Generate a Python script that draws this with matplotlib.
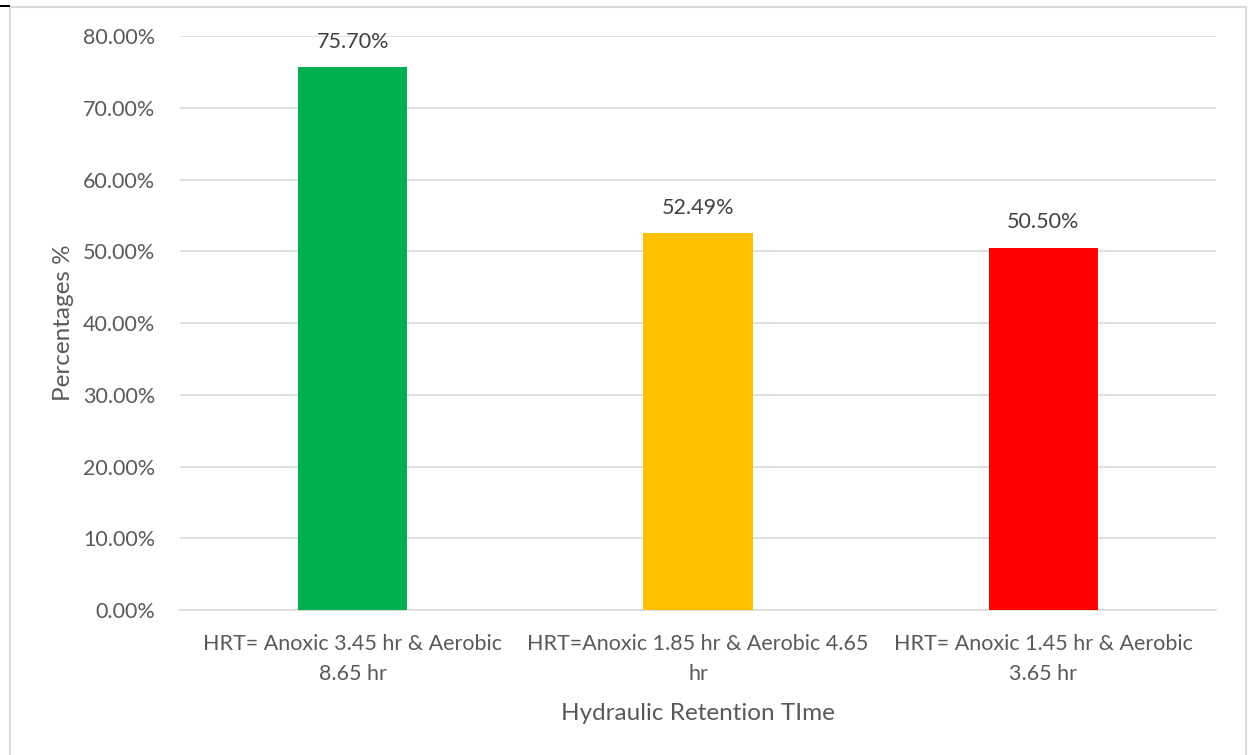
import matplotlib.pyplot as plt
from matplotlib.ticker import FuncFormatter
from matplotlib.patches import Rectangle

categories = ["HRT= Anoxic 3.45 hr & Aerobic\n8.65 hr",
              "HRT=Anoxic 1.85 hr & Aerobic 4.65\nhr",
              "HRT= Anoxic 1.45 hr & Aerobic\n3.65 hr"]
values = [75.70, 52.49, 50.50]
colors = ["#00B050", "#FFC000", "#FF0000"]

plt.rcParams["font.family"] = ["Lato", "DejaVu Sans"]
textColor = "#595959"
gridColor = "#D9D9D9"
tailleTexte = 15.5
tailleTitre = 17.5

fig = plt.figure(figsize=(12.48, 7.55), dpi=100)
ax = fig.add_axes([0.1442, 0.192, 0.8302, 0.7603])

x = range(len(categories))
ax.bar(x, values, width=0.316, color=colors, zorder=3)

for i, v in enumerate(values):
    ax.annotate("%.2f%%" % v, (i, v), xytext=(0, 11), textcoords="offset points",
                ha="center", va="bottom", fontsize=tailleTexte, color="#404040")

ax.set_xlim(-0.5, 2.5)
ax.set_ylim(0, 80)
ax.set_yticks(range(0, 81, 10))
ax.yaxis.set_major_formatter(FuncFormatter(lambda v, p: "%.2f%%" % v))
ax.set_xticks(list(x))
ax.set_xticklabels(categories, fontsize=tailleTexte, color=textColor, linespacing=1.65)
ax.tick_params(axis="y", labelsize=tailleTexte, labelcolor=textColor, length=0, pad=18)
ax.tick_params(axis="x", length=0, pad=17)

ax.grid(axis="y", color=gridColor, linewidth=1.2, zorder=0)
for s in ["top", "right", "left"]:
    ax.spines[s].set_visible(False)
ax.spines["bottom"].set_color(gridColor)
ax.spines["bottom"].set_linewidth(1.2)

ax.set_xlabel("Hydraulic Retention TIme", fontsize=tailleTitre, color=textColor, labelpad=14)
ax.set_ylabel("Percentages %", fontsize=tailleTitre, color=textColor, labelpad=6)

# cadre du graphique
fig.patches.append(Rectangle((10 / 1248, -0.05), 1236 / 1248, 0.05 + 748 / 755,
                             transform=fig.transFigure, fill=False,
                             edgecolor="#D9D9D9", linewidth=1.5))
fig.patches.append(Rectangle((0, 748 / 755), 10 / 1248, 2 / 755,
                             transform=fig.transFigure, color="black", linewidth=0))

fig.savefig("out.png", dpi=100)
